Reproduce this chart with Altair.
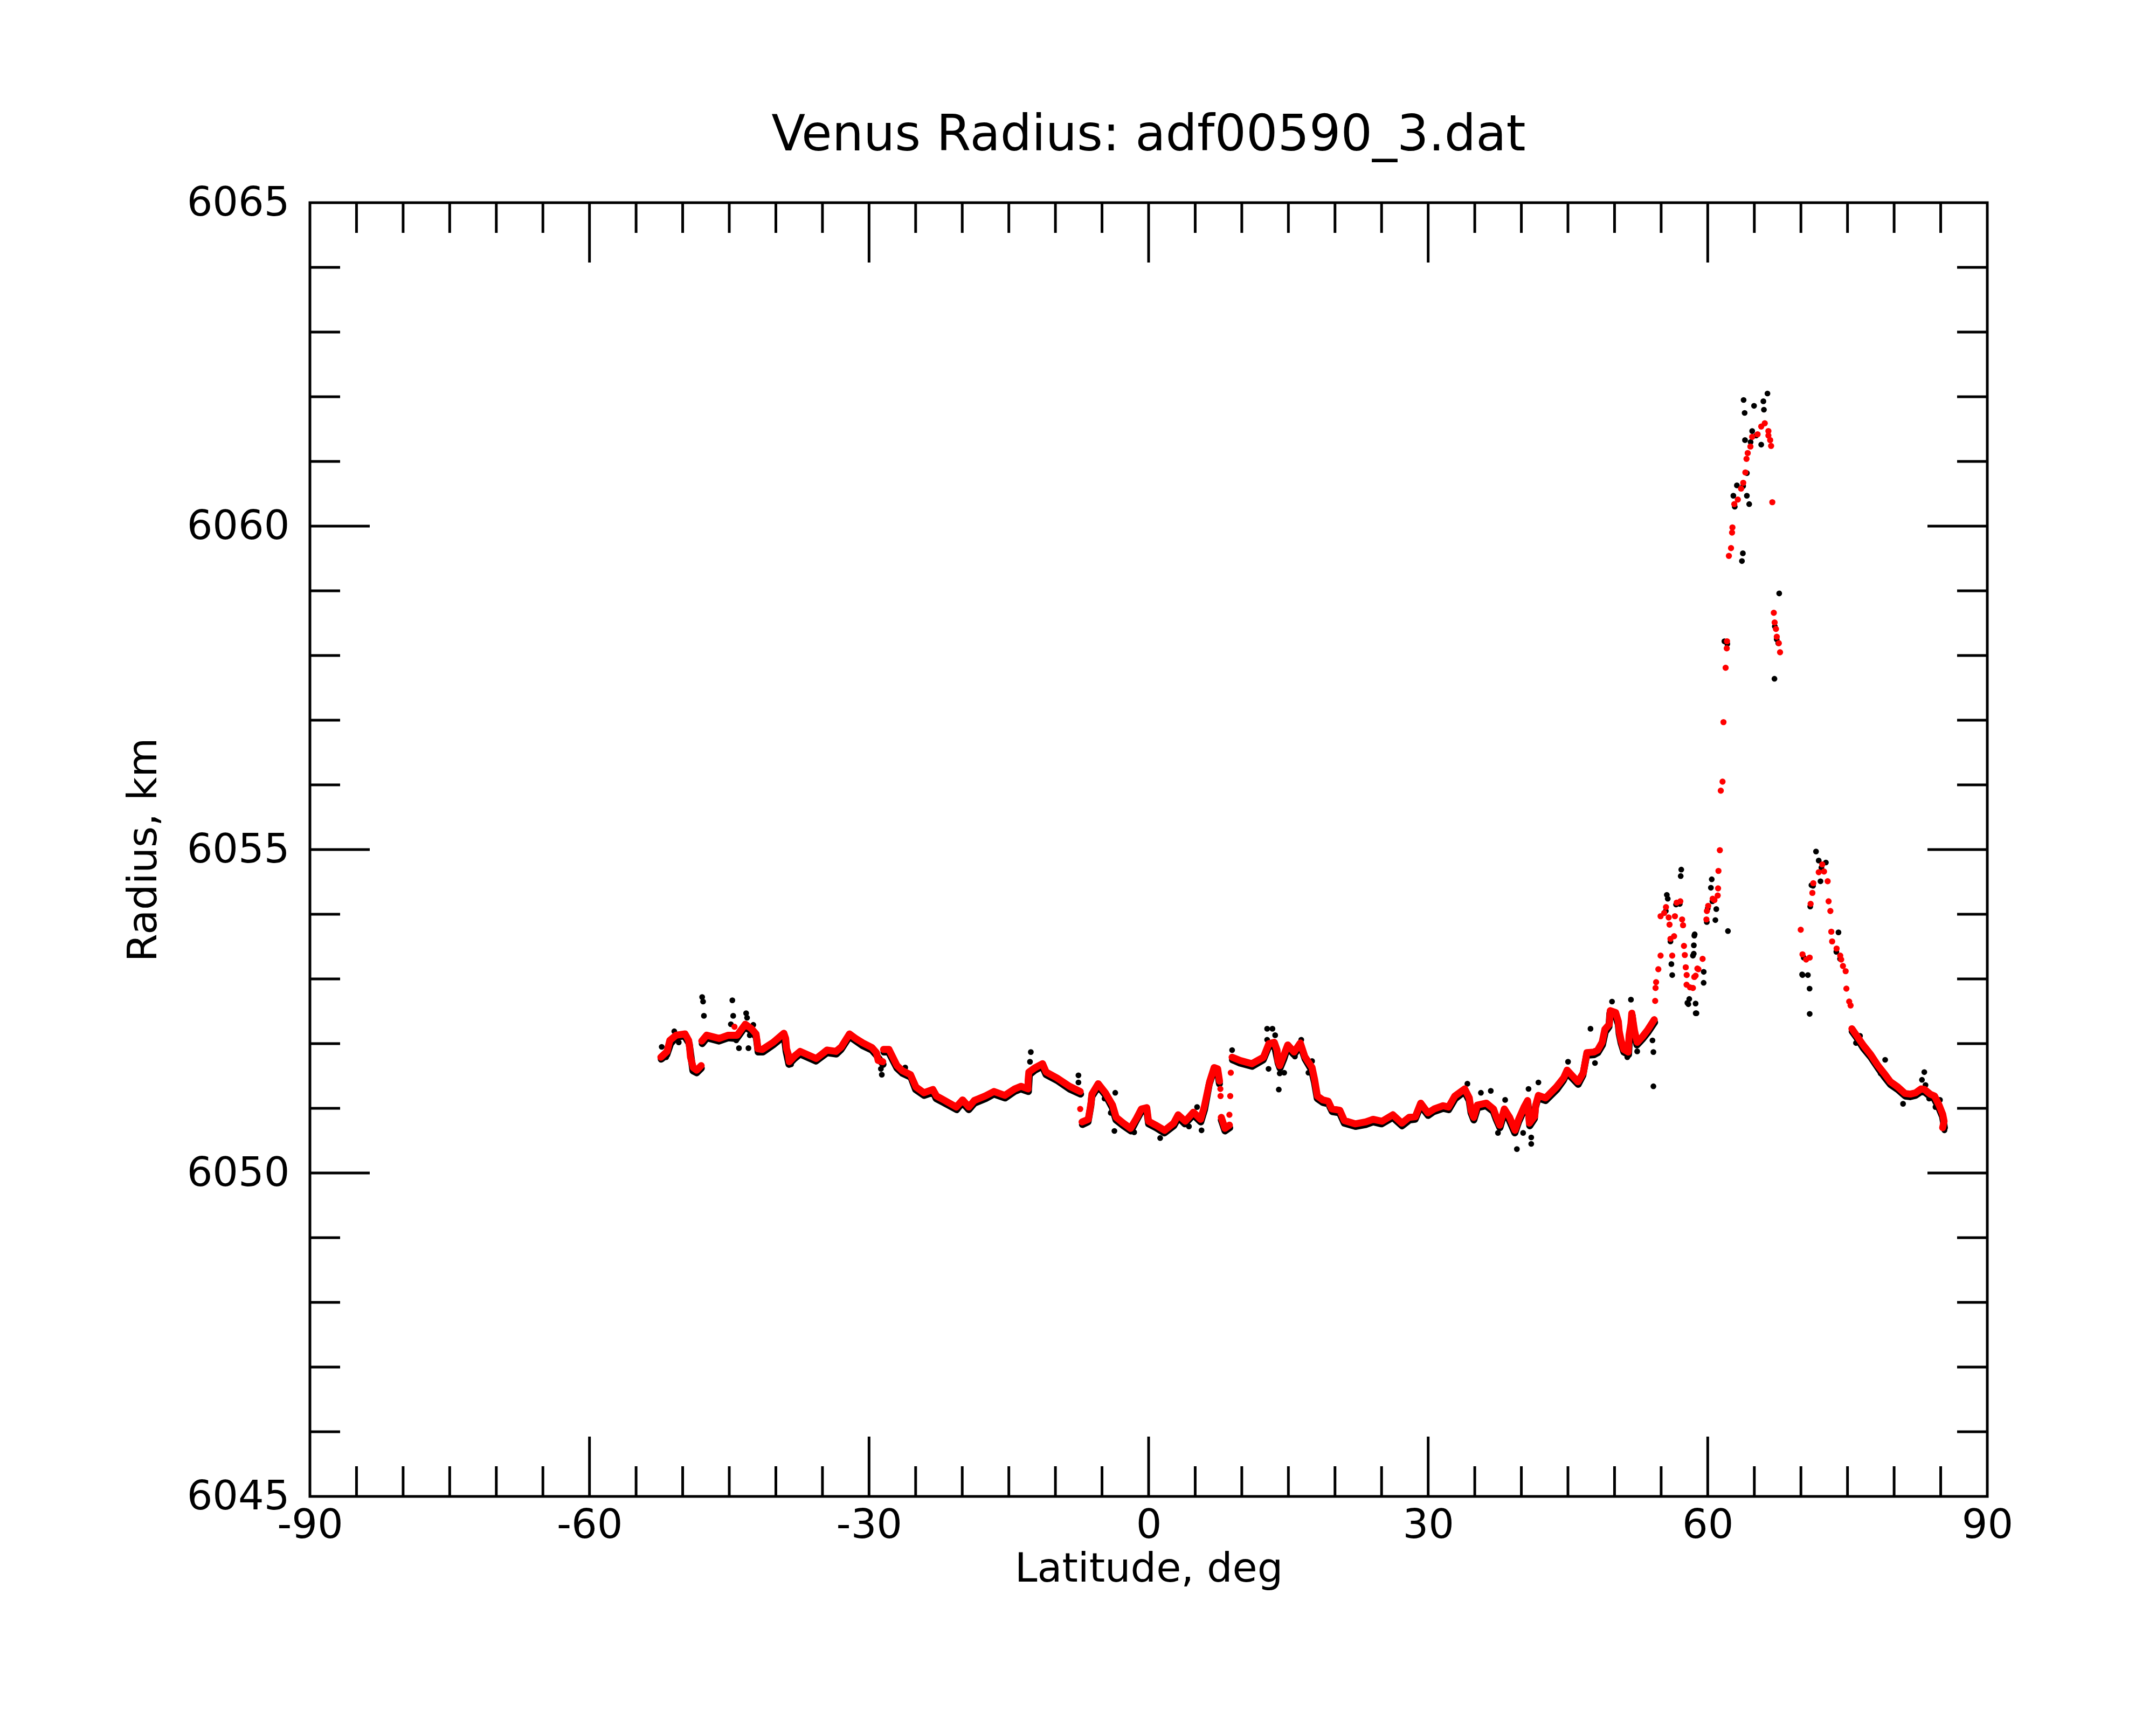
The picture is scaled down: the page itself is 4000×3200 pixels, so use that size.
import altair as alt
import pandas as pd

W, H = 3112, 2400

TITLE = "Venus Radius: adf00590_3.dat"
X_TITLE = "Latitude, deg"
Y_TITLE = "Radius, km"
x_labels = [-90, -60, -30, 0, 30, 60, 90]
y_labels = [6045, 6050, 6055, 6060, 6065]
x_tick_major = [-60, -30, 0, 30, 60]
x_tick_minor = [-85, -80, -75, -70, -65, -55, -50, -45, -40, -35, -25, -20, -15, -10, -5,
                5, 10, 15, 20, 25, 35, 40, 45, 50, 55, 65, 70, 75, 80, 85]
y_tick_major = [6050, 6055, 6060]
y_tick_minor = [6046, 6047, 6048, 6049, 6051, 6052, 6053, 6054, 6056, 6057, 6058, 6059,
                6061, 6062, 6063, 6064]

# ---- red (smoothed) trace, continuous runs ----
red_seg1_lat = [-52.34, -51.67, -51.38, -50.71, -49.74, -49.36, -49.26, -49.16, -48.87, -48.49, -48.01]
red_seg1_rad = [6051.79, 6051.88, 6052.05, 6052.13, 6052.15, 6052.05, 6051.95, 6051.79, 6051.63, 6051.59, 6051.66]

red_seg2_lat = [-47.95, -47.43, -46.08, -45.11, -44.15, -43.28, -42.61, -42.13, -42.03, -41.93,
                -41.45, -40.29, -39.14, -38.95, -38.85, -38.66, -38.56, -37.98, -37.40, -35.67,
                -34.51, -33.55, -32.97, -32.10, -31.43, -30.66, -29.69, -29.21, -29.02, -28.53]
red_seg2_rad = [6052.04, 6052.13, 6052.08, 6052.13, 6052.13, 6052.30, 6052.23, 6052.15, 6052.05, 6051.92,
                6051.91, 6052.02, 6052.16, 6052.08, 6051.92, 6051.83, 6051.72, 6051.81, 6051.88, 6051.77,
                6051.90, 6051.88, 6051.95, 6052.15, 6052.08, 6052.01, 6051.94, 6051.86, 6051.74, 6051.72]

red_seg3_lat = [-28.45, -27.86, -27.00, -26.41, -25.55, -24.97, -24.11, -23.15, -22.76, -21.99,
                -20.64, -19.96, -19.29, -18.71, -17.55, -16.59, -15.43, -14.37, -13.70, -12.93,
                -12.93, -12.85, -12.16, -11.38, -11.00, -9.84, -8.49, -7.34]
red_seg3_rad = [6051.91, 6051.91, 6051.66, 6051.58, 6051.52, 6051.33, 6051.24, 6051.29, 6051.19, 6051.13,
                6051.02, 6051.13, 6051.02, 6051.12, 6051.19, 6051.26, 6051.20, 6051.30, 6051.34, 6051.30,
                6051.43, 6051.56, 6051.63, 6051.69, 6051.56, 6051.47, 6051.34, 6051.26]

red_seg4_lat = [-7.14, -6.47, -6.28, -6.18, -6.08, -5.41, -4.64, -3.87, -3.48, -2.71,
                -1.94, -1.36, -0.78, -0.20, -0.01, 0.76, 1.72, 2.69, 3.17, 3.94,
                4.81, 5.58, 5.97, 6.55, 7.03, 7.41, 7.61]
red_seg4_rad = [6050.79, 6050.83, 6050.99, 6051.08, 6051.22, 6051.38, 6051.24, 6051.05, 6050.86, 6050.77,
                6050.69, 6050.83, 6050.99, 6051.01, 6050.80, 6050.74, 6050.66, 6050.77, 6050.90, 6050.80,
                6050.94, 6050.83, 6051.02, 6051.41, 6051.63, 6051.61, 6051.42]

red_seg5_lat = [7.80, 8.19, 8.67]
red_seg5_rad = [6050.86, 6050.69, 6050.74]

red_seg6_lat = [8.96, 9.82, 11.08, 12.33, 12.91, 13.49, 13.78, 13.87, 14.07, 14.45,
                14.93, 15.61, 16.28, 16.76, 17.54, 17.82, 18.11, 18.69, 19.27, 19.66,
                20.52, 21.01, 22.16, 23.32, 24.09, 25.05, 26.21, 27.17, 27.95, 28.62,
                29.20, 29.97, 30.64, 31.61, 32.19, 32.86, 33.92, 34.41, 34.60, 34.89,
                35.27, 36.24, 37.01, 37.30, 37.68, 38.17, 38.74, 39.32, 39.71, 40.29,
                40.67, 40.86, 41.44, 41.54, 41.83, 42.60, 43.76, 44.53, 44.91, 46.07,
                46.65, 47.03, 47.80, 48.19, 48.67, 48.96, 49.44, 49.54, 50.12, 50.41,
                50.50, 50.70, 50.99, 51.47, 51.56, 51.76, 51.85, 52.14, 52.43, 53.01,
                53.59, 54.26]
red_seg6_rad = [6051.79, 6051.74, 6051.69, 6051.79, 6052.00, 6052.02, 6051.90, 6051.74, 6051.66, 6051.80,
                6051.98, 6051.87, 6052.01, 6051.80, 6051.63, 6051.44, 6051.19, 6051.13, 6051.11, 6050.99,
                6050.97, 6050.81, 6050.76, 6050.79, 6050.83, 6050.80, 6050.90, 6050.77, 6050.86, 6050.87,
                6051.08, 6050.93, 6050.99, 6051.04, 6051.02, 6051.19, 6051.30, 6051.16, 6050.97, 6050.86,
                6051.05, 6051.08, 6050.99, 6050.87, 6050.74, 6050.99, 6050.86, 6050.66, 6050.83, 6051.02,
                6051.12, 6050.77, 6050.88, 6051.05, 6051.20, 6051.16, 6051.33, 6051.47, 6051.59, 6051.41,
                6051.55, 6051.86, 6051.87, 6051.90, 6052.02, 6052.22, 6052.30, 6052.51, 6052.48, 6052.34,
                6052.19, 6052.05, 6051.91, 6051.87, 6052.13, 6052.31, 6052.47, 6052.20, 6052.02, 6052.11,
                6052.22, 6052.37]

red_seg7_lat = [75.47, 75.95, 76.72, 77.49, 78.27, 79.04, 79.61, 80.39, 81.16, 81.74,
                82.31, 82.89, 83.28, 83.86, 84.34, 84.82, 85.21, 85.36, 85.21]
red_seg7_rad = [6052.23, 6052.13, 6051.97, 6051.83, 6051.66, 6051.52, 6051.41, 6051.33, 6051.23, 6051.22,
                6051.24, 6051.30, 6051.29, 6051.22, 6051.19, 6051.05, 6050.91, 6050.80, 6050.70]

# ---- red isolated / scattered dots ----
red_dot_lat = [-44.44, -7.34, 7.70, 7.72, 8.67, 8.76, 8.82, 54.36, 54.40, 54.46,
               54.70, 54.94, 54.94, 55.33, 55.52, 55.81, 55.90, 56.00, 56.19, 56.39,
               56.48, 56.67, 57.06, 57.25, 57.35, 57.45, 57.54, 57.64, 57.74, 57.73,
               58.10, 58.41, 58.56, 58.70, 58.89, 59.00, 59.45, 59.86, 59.91, 60.05,
               60.53, 60.72, 61.07, 61.11, 61.15, 61.30, 61.40, 61.59, 61.69, 61.92,
               62.04, 62.07, 62.27, 62.50, 62.61, 62.65, 62.85, 63.23, 63.58, 63.81,
               64.04, 64.16, 64.29, 64.58, 64.77, 65.35, 65.74, 66.12, 66.51, 66.51,
               66.70, 66.80, 66.93, 67.09, 67.18, 67.32, 67.41, 67.63, 67.76, 69.98,
               70.17, 70.56, 70.94, 71.04, 71.23, 71.33, 71.91, 72.29, 72.48, 72.87,
               72.97, 73.16, 73.26, 73.35, 73.83, 74.22, 74.32, 74.51, 74.80, 74.88,
               75.18, 75.33]
red_dot_rad = [6052.26, 6050.99, 6051.30, 6051.19, 6050.90, 6051.19, 6051.55, 6052.66, 6052.86, 6052.95,
               6053.15, 6053.36, 6053.97, 6054.02, 6054.11, 6053.95, 6053.84, 6053.62, 6053.36, 6053.66,
               6053.97, 6054.18, 6054.20, 6053.92, 6053.83, 6053.51, 6053.37, 6053.18, 6053.06, 6052.91,
               6052.87, 6052.86, 6053.03, 6053.05, 6053.16, 6053.15, 6053.31, 6053.92, 6054.05, 6054.13,
               6054.24, 6054.22, 6054.29, 6054.40, 6054.67, 6054.99, 6055.91, 6056.05, 6056.97, 6057.81,
               6058.11, 6058.22, 6059.54, 6059.66, 6059.90, 6059.98, 6060.34, 6060.41, 6060.58, 6060.67,
               6060.83, 6061.04, 6061.13, 6061.23, 6061.38, 6061.42, 6061.54, 6061.59, 6061.47, 6061.40,
               6061.33, 6061.24, 6060.37, 6058.66, 6058.51, 6058.41, 6058.29, 6058.19, 6058.05, 6053.76,
               6053.38, 6053.30, 6053.33, 6054.16, 6054.33, 6054.48, 6054.65, 6054.77, 6054.66, 6054.51,
               6054.20, 6054.05, 6053.73, 6053.58, 6053.47, 6053.36, 6053.30, 6053.20, 6053.12, 6052.85,
               6052.65, 6052.59]

# ---- black (raw) trace, continuous runs ----
blk_segA_lat = [-52.3, -51.7, -51.3, -50.7, -49.8, -49.3, -48.9, -48.5, -48.0]
blk_segA_rad = [6051.76, 6051.83, 6052.00, 6052.10, 6052.12, 6052.00, 6051.58, 6051.55, 6051.62]

blk_segB_lat = [-47.9, -47.4, -46.1, -45.1, -44.2, -43.3, -42.6, -42.1, -41.9, -41.4,
                -40.3, -39.1, -38.9, -38.6, -38.0, -37.4, -35.7, -34.5, -33.5, -33.0,
                -32.1, -31.4, -30.7, -29.7, -29.2, -28.5]
blk_segB_rad = [6052.00, 6052.09, 6052.04, 6052.09, 6052.08, 6052.26, 6052.19, 6052.10, 6051.87, 6051.87,
                6051.98, 6052.12, 6051.88, 6051.68, 6051.77, 6051.84, 6051.73, 6051.86, 6051.84, 6051.91,
                6052.11, 6052.04, 6051.97, 6051.90, 6051.82, 6051.68]

blk_segC_lat = [-28.4, -27.9, -27.0, -26.4, -25.5, -25.0, -24.1, -23.1, -22.8, -22.0,
                -20.6, -20.0, -19.3, -18.7, -17.5, -16.6, -15.4, -14.4, -13.7, -12.9,
                -12.8, -12.2, -11.4, -11.0, -9.8, -8.5, -7.3]
blk_segC_rad = [6051.87, 6051.87, 6051.62, 6051.54, 6051.48, 6051.29, 6051.20, 6051.25, 6051.15, 6051.09,
                6050.98, 6051.09, 6050.98, 6051.08, 6051.15, 6051.22, 6051.16, 6051.26, 6051.30, 6051.26,
                6051.52, 6051.59, 6051.65, 6051.52, 6051.43, 6051.30, 6051.22]

blk_segD_lat = [-7.1, -6.5, -6.2, -6.1, -5.4, -4.6, -3.9, -3.5, -2.7, -1.9,
                -1.4, -0.8, -0.2, 0.0, 0.8, 1.7, 2.7, 3.2, 3.9, 4.8,
                5.6, 6.0, 6.5, 7.0, 7.4, 7.6]
blk_segD_rad = [6050.75, 6050.79, 6051.04, 6051.18, 6051.34, 6051.20, 6051.01, 6050.82, 6050.73, 6050.65,
                6050.79, 6050.95, 6050.97, 6050.76, 6050.70, 6050.62, 6050.73, 6050.86, 6050.76, 6050.90,
                6050.79, 6050.98, 6051.37, 6051.59, 6051.57, 6051.38]

blk_segE_lat = [7.8, 8.2, 8.7]
blk_segE_rad = [6050.82, 6050.65, 6050.70]

blk_segF_lat = [9.0, 9.8, 11.1, 12.3, 12.9, 13.5, 13.9, 14.1, 14.5, 14.9,
                15.6, 16.3, 16.8, 17.5, 17.8, 18.1, 18.7, 19.3, 19.7, 20.5,
                21.0, 22.2, 23.3, 24.1, 25.0, 26.2, 27.2, 28.0, 28.6, 29.2,
                30.0, 30.6, 31.6, 32.2, 32.9, 33.9, 34.4, 34.6, 34.9, 35.3,
                36.2, 37.0, 37.3, 37.7, 38.2, 38.7, 39.3, 39.7, 40.3, 40.7,
                40.9, 41.4, 41.5, 41.8, 42.6, 43.8, 44.5, 44.9, 46.1, 46.6,
                47.0, 47.8, 48.2, 48.7, 49.0, 49.4, 49.5, 50.1, 50.4, 50.5,
                50.7, 51.0, 51.5, 51.6, 51.8, 51.9, 52.1, 52.4, 53.0, 53.6,
                54.3]
blk_segF_rad = [6051.75, 6051.70, 6051.65, 6051.75, 6051.96, 6051.98, 6051.70, 6051.62, 6051.76, 6051.94,
                6051.83, 6051.97, 6051.76, 6051.59, 6051.40, 6051.15, 6051.09, 6051.07, 6050.95, 6050.93,
                6050.77, 6050.72, 6050.75, 6050.79, 6050.76, 6050.86, 6050.73, 6050.82, 6050.83, 6051.04,
                6050.89, 6050.95, 6051.00, 6050.98, 6051.15, 6051.26, 6051.12, 6050.93, 6050.82, 6051.01,
                6051.04, 6050.95, 6050.83, 6050.70, 6050.95, 6050.82, 6050.62, 6050.79, 6050.98, 6051.08,
                6050.73, 6050.84, 6051.01, 6051.16, 6051.12, 6051.29, 6051.43, 6051.55, 6051.37, 6051.51,
                6051.82, 6051.83, 6051.86, 6051.98, 6052.18, 6052.26, 6052.47, 6052.44, 6052.30, 6052.15,
                6052.01, 6051.87, 6051.83, 6052.09, 6052.27, 6052.43, 6052.16, 6051.98, 6052.07, 6052.18,
                6052.33]

blk_segG_lat = [75.5, 76.0, 76.7, 77.5, 78.3, 79.0, 79.6, 80.4, 81.2, 81.7,
                82.3, 82.9, 83.3, 83.9, 84.3, 84.8, 85.2, 85.4]
blk_segG_rad = [6052.19, 6052.09, 6051.93, 6051.79, 6051.62, 6051.48, 6051.37, 6051.29, 6051.19, 6051.18,
                6051.20, 6051.26, 6051.25, 6051.18, 6051.15, 6051.01, 6050.87, 6050.70]

# ---- black scattered dots (lat, radius) ----
blk_dots = [
    (-52.25, 6051.95), (-51.77, 6051.79), (-50.90, 6052.19), (-50.42, 6052.02), (-47.91, 6052.72),
    (-47.81, 6052.65), (-47.72, 6052.43), (-44.83, 6052.30), (-44.67, 6052.67), (-44.58, 6052.43),
    (-44.25, 6052.05), (-43.96, 6051.93), (-43.19, 6052.47), (-43.09, 6052.40), (-42.94, 6051.93),
    (-42.80, 6052.13), (-42.42, 6052.29), (-38.37, 6051.68), (-28.73, 6051.61), (-28.63, 6051.52),
    (-26.12, 6051.63), (-12.73, 6051.72), (-12.64, 6051.87), (-7.53, 6051.51), (-7.53, 6051.40),
    (-4.73, 6051.15), (-4.06, 6050.93), (-3.67, 6050.65), (-3.58, 6051.24), (-1.55, 6050.63),
    (1.24, 6050.54), (4.33, 6050.72), (5.20, 6051.02), (5.68, 6050.66), (8.96, 6051.90),
    (12.72, 6052.23), (12.72, 6052.06), (12.87, 6051.61), (13.29, 6052.23), (13.58, 6052.13),
    (13.97, 6051.29), (14.07, 6051.54), (14.55, 6051.55), (15.70, 6051.80), (16.38, 6052.06),
    (17.15, 6051.55), (17.54, 6051.73), (34.21, 6051.38), (35.66, 6051.24), (36.72, 6051.27),
    (37.49, 6050.62), (38.26, 6051.13), (39.52, 6050.37), (40.19, 6050.62), (40.77, 6051.30),
    (41.06, 6050.55), (41.06, 6050.45), (41.83, 6051.40), (45.01, 6051.72), (47.42, 6052.23),
    (47.90, 6051.70), (49.73, 6052.65), (51.37, 6051.79), (51.76, 6052.68), (52.43, 6051.88),
    (54.07, 6052.05), (54.17, 6051.87), (54.17, 6051.34), (55.50, 6054.05), (55.61, 6054.30),
    (55.71, 6054.24), (56.00, 6053.58), (56.10, 6053.23), (56.19, 6053.06), (56.60, 6054.15),
    (57.00, 6054.16), (57.10, 6054.59), (57.16, 6054.69), (57.82, 6052.63), (57.92, 6052.61),
    (58.02, 6052.69), (58.41, 6053.36), (58.50, 6053.39), (58.51, 6053.52), (58.56, 6053.67),
    (58.60, 6053.69), (58.70, 6052.62), (58.71, 6052.47), (58.79, 6052.47), (59.56, 6052.94),
    (59.57, 6053.11), (59.90, 6053.88), (60.00, 6054.09), (60.34, 6054.41), (60.43, 6054.54),
    (60.50, 6054.20), (60.82, 6053.91), (60.92, 6054.08), (61.79, 6058.22), (62.10, 6058.18),
    (62.17, 6053.74), (62.75, 6060.47), (62.90, 6060.30), (63.13, 6060.63), (63.67, 6059.46),
    (63.77, 6059.58), (63.80, 6060.62), (63.85, 6061.95), (63.96, 6061.75), (64.00, 6061.33),
    (64.20, 6060.82), (64.20, 6060.47), (64.45, 6060.34), (64.60, 6061.30), (64.77, 6061.47),
    (64.97, 6061.86), (65.20, 6061.40), (65.74, 6061.26), (65.97, 6061.93), (66.03, 6061.80),
    (66.41, 6062.05), (67.16, 6057.64), (67.20, 6058.45), (67.40, 6058.25), (67.57, 6058.19),
    (67.67, 6058.96), (70.13, 6053.07), (70.17, 6053.06), (70.30, 6053.33), (70.75, 6053.06),
    (70.93, 6052.85), (70.94, 6052.46), (71.00, 6054.12), (71.13, 6054.45), (71.30, 6054.44),
    (71.62, 6054.97), (71.91, 6054.83), (72.10, 6054.51), (72.20, 6054.72), (72.68, 6054.80),
    (73.80, 6053.42), (74.03, 6053.72), (74.20, 6053.31), (75.91, 6052.01), (76.34, 6052.12),
    (78.55, 6051.54), (79.04, 6051.75), (80.96, 6051.07), (82.99, 6051.44), (83.24, 6051.56),
    (83.37, 6051.36), (83.76, 6051.15), (84.44, 6051.02), (84.92, 6051.13), (85.40, 6050.66),
]


def runs_frame(runs, prefix):
    rows = []
    for k, (la, ra) in enumerate(runs):
        for x, y in zip(la, ra):
            rows.append({"lat": x, "rad": y, "seg": f"{prefix}{k}", "ord": len(rows)})
    return pd.DataFrame(rows)


red_runs = runs_frame([(red_seg1_lat, red_seg1_rad), (red_seg2_lat, red_seg2_rad),
                       (red_seg3_lat, red_seg3_rad), (red_seg4_lat, red_seg4_rad),
                       (red_seg5_lat, red_seg5_rad), (red_seg6_lat, red_seg6_rad),
                       (red_seg7_lat, red_seg7_rad)], "r")
blk_runs = runs_frame([(blk_segA_lat, blk_segA_rad), (blk_segB_lat, blk_segB_rad),
                       (blk_segC_lat, blk_segC_rad), (blk_segD_lat, blk_segD_rad),
                       (blk_segE_lat, blk_segE_rad), (blk_segF_lat, blk_segF_rad),
                       (blk_segG_lat, blk_segG_rad)], "b")
red_dots_df = pd.DataFrame({"lat": red_dot_lat, "rad": red_dot_rad})
blk_dots_df = pd.DataFrame(blk_dots, columns=["lat", "rad"])

FONT = "DejaVu Sans"
xs = alt.Scale(domain=[-90, 90], nice=False, zero=False)
ys = alt.Scale(domain=[6045, 6065], nice=False, zero=False)

x_axis = alt.Axis(values=x_labels, labelExpr="(datum.value < 0 ? '-' : '') + abs(datum.value)",
                  ticks=False, domain=False, grid=False, labelPadding=17, labelFlush=False,
                  labelOverlap=False, labelLimit=0, title=X_TITLE, titleX=W / 2, titleY=134,
                  titleBaseline="middle", titleAlign="center",
                  labelFont=FONT, labelFontSize=75, labelColor="black",
                  titleFont=FONT, titleFontSize=75, titleFontWeight="normal", titleColor="black")
y_axis = alt.Axis(values=y_labels, format="d", ticks=False, domain=False, grid=False,
                  labelPadding=38, labelFlush=False, labelOverlap=False, labelLimit=0,
                  title=Y_TITLE, titleX=-309, titleY=H / 2, titleAngle=270,
                  titleBaseline="middle", titleAlign="center",
                  labelFont=FONT, labelFontSize=75, labelColor="black",
                  titleFont=FONT, titleFontSize=75, titleFontWeight="normal", titleColor="black")

X = alt.X("lat:Q", scale=xs, axis=x_axis, title=X_TITLE)
Y = alt.Y("rad:Q", scale=ys, axis=y_axis, title=Y_TITLE)

blk_line = alt.Chart(blk_runs).mark_line(color="black", strokeWidth=13, strokeCap="round",
                                          strokeJoin="round").encode(
    x=X, y=Y, detail="seg:N", order="ord:Q")
blk_pts = alt.Chart(blk_dots_df).mark_circle(color="black", size=115, opacity=1).encode(x=X, y=Y)
red_line = alt.Chart(red_runs).mark_line(color="#ff0000", strokeWidth=13, strokeCap="round",
                                          strokeJoin="round").encode(
    x=X, y=Y, detail="seg:N", order="ord:Q")
red_pts = alt.Chart(red_dots_df).mark_circle(color="#ff0000", size=130, opacity=1).encode(x=X, y=Y)


def xticks(vals, length):
    df = pd.DataFrame({"lat": vals})
    bot = alt.Chart(df).mark_rule(color="black", strokeWidth=5).encode(
        x=X, y=alt.value(H), y2=alt.value(H - length))
    top = alt.Chart(df).mark_rule(color="black", strokeWidth=5).encode(
        x=X, y=alt.value(0), y2=alt.value(length))
    return [bot, top]


def yticks(vals, length):
    df = pd.DataFrame({"rad": vals})
    left = alt.Chart(df).mark_rule(color="black", strokeWidth=5).encode(
        y=Y, x=alt.value(0), x2=alt.value(length))
    right = alt.Chart(df).mark_rule(color="black", strokeWidth=5).encode(
        y=Y, x=alt.value(W - length), x2=alt.value(W))
    return [left, right]


tick_layers = (xticks(x_tick_minor, 56) + xticks(x_tick_major, 111)
               + yticks(y_tick_minor, 56) + yticks(y_tick_major, 111))

chart = alt.layer(blk_line, blk_pts, red_line, red_pts, *tick_layers).properties(
    width=W, height=H,
    title=alt.TitleParams(text=TITLE, font=FONT, fontSize=92, fontWeight="normal", color="black",
                          anchor="middle", frame="group", baseline="alphabetic", offset=1, dy=33),
    autosize=alt.AutoSizeParams(type="none"),
    padding={"left": 567, "top": 368, "right": 290, "bottom": 400},
).configure(background="white").configure_view(stroke="black", strokeWidth=5)

chart.save("out.html", embed_options={"renderer": "svg", "actions": False})
